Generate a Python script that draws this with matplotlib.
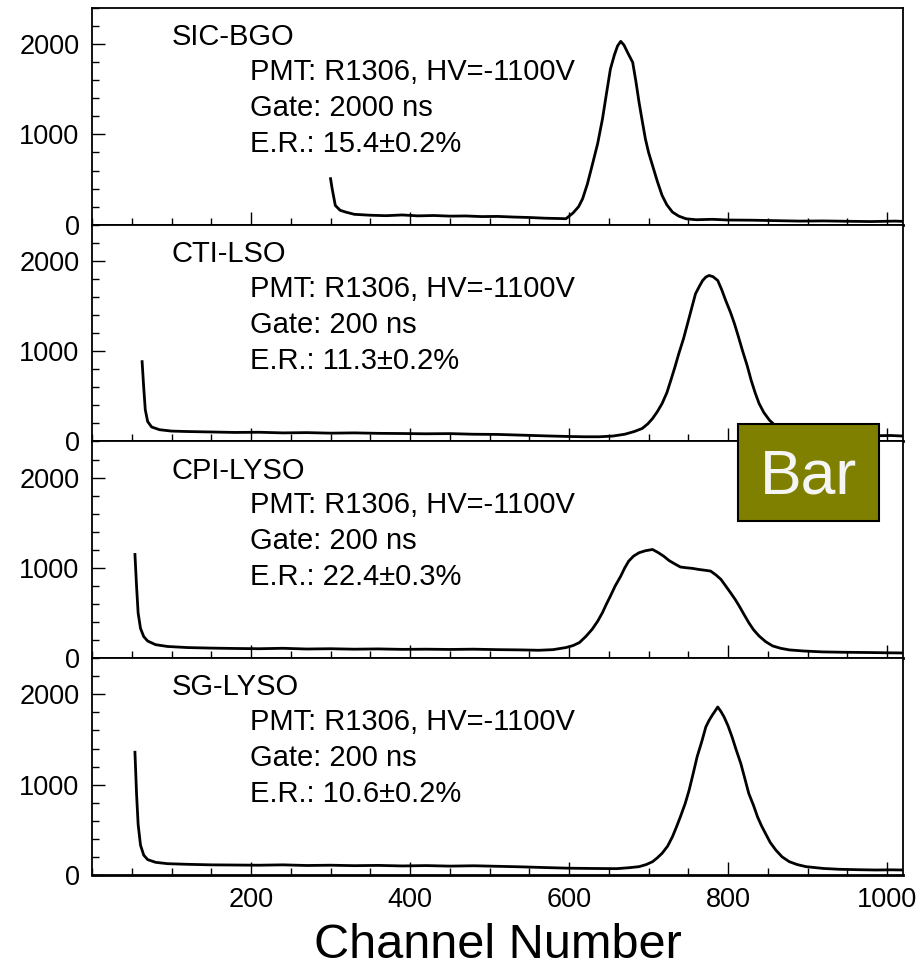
import matplotlib
matplotlib.use("Agg")
import matplotlib.pyplot as plt
from matplotlib.patches import Rectangle
from matplotlib.ticker import MultipleLocator, FixedLocator

plt.rcParams['font.family'] = ['Liberation Sans', 'DejaVu Sans']

# crystal names and run settings
crystals = ['SIC-BGO', 'CTI-LSO', 'CPI-LYSO', 'SG-LYSO']
gates = ['2000 ns', '200 ns', '200 ns', '200 ns']
resolutions = ['15.4\u00b10.2%', '11.3\u00b10.2%', '22.4\u00b10.3%', '10.6\u00b10.2%']
pmt = 'PMT: R1306, HV=-1100V'

# spectra: channel, counts
bgo_ch = [300, 302, 306, 312, 319, 330, 350, 370, 390, 410, 430, 450, 470, 490,
          510, 530, 550, 570, 590, 596, 605, 612, 617, 623, 629, 636, 642, 647,
          652, 657, 661, 665, 669, 674, 680, 684, 688, 692, 696, 700, 705, 711,
          717, 723, 730, 738, 747, 760, 780, 800, 830, 860, 890, 920, 950, 980,
          1010, 1020]
bgo_n = [510, 400, 213, 160, 140, 115, 105, 100, 108, 98, 102, 95, 97, 90,
         92, 85, 80, 72, 68, 66, 130, 200, 287, 450, 655, 900, 1171, 1450,
         1724, 1880, 1980, 2030, 1990, 1900, 1798, 1590, 1356, 1150, 950, 800, 655, 480,
         324, 220, 140, 95, 66, 55, 60, 52, 50, 45, 40, 42, 38, 35,
         40, 37]

lso_ch = [63, 65, 67, 70, 75, 85, 100, 120, 150, 180, 210, 240, 270, 300, 330,
          360, 390, 420, 450, 480, 510, 540, 570, 600, 620, 638, 655, 670, 682,
          692, 699, 705, 711, 717, 723, 728, 733, 738, 744, 749, 754, 759, 764,
          768, 772, 776, 781, 787, 792, 797, 803, 808, 813, 818, 824, 829, 834,
          839, 845, 852, 860, 870, 880, 895, 910, 930, 950, 970, 990, 1005, 1020]
lso_n = [884, 600, 350, 220, 160, 130, 115, 110, 105, 100, 102, 95, 98, 92, 95,
         90, 88, 85, 87, 80, 78, 70, 62, 55, 52, 52, 60, 80, 110,
         144, 195, 254, 330, 420, 540, 678, 820, 972, 1140, 1304, 1470, 1635, 1720,
         1782, 1820, 1838, 1825, 1782, 1680, 1561, 1430, 1304, 1160, 1009, 840, 678, 540,
         420, 320, 236, 170, 120, 95, 80, 72, 70, 66, 65, 64, 66, 60]

cpi_ch = [54, 56, 58, 61, 65, 70, 80, 95, 120, 150, 180, 210, 240, 270, 300,
          330, 360, 390, 420, 450, 480, 510, 540, 562, 580, 596, 605, 613, 621,
          629, 636, 642, 647, 652, 658, 665, 670, 675, 681, 688, 696, 705, 712,
          719, 726, 734, 740, 747, 755, 763, 770, 778, 785, 791, 797, 803, 809,
          814, 820, 826, 832, 839, 847, 856, 866, 877, 895, 919, 945, 977, 1000,
          1020]
cpi_n = [1149, 800, 500, 330, 240, 190, 150, 130, 118, 112, 108, 105, 110, 102, 105,
         100, 103, 98, 100, 97, 100, 95, 92, 88, 95, 118, 140, 173, 240,
         320, 410, 505, 600, 688, 800, 909, 1000, 1075, 1130, 1168, 1190, 1204, 1170,
         1130, 1080, 1039, 1010, 1002, 995, 983, 975, 965, 920, 873, 800, 726, 650,
         578, 485, 394, 315, 246, 185, 136, 110, 92, 80, 70, 66, 63, 60,
         58]

sg_ch = [54, 56, 58, 61, 65, 70, 80, 95, 120, 150, 180, 210, 240, 270, 300,
         330, 360, 390, 420, 450, 480, 510, 540, 570, 600, 630, 660, 675, 688,
         697, 705, 711, 717, 724, 730, 735, 740, 746, 751, 756, 761, 767, 772,
         776, 780, 784, 787, 791, 795, 800, 805, 810, 816, 821, 826, 832, 837,
         842, 847, 853, 860, 868, 877, 887, 898, 920, 940, 965, 986, 1005, 1020]
sg_n = [1359, 900, 560, 330, 220, 170, 140, 125, 118, 112, 110, 108, 112, 105, 108,
        103, 106, 100, 104, 98, 102, 96, 90, 82, 75, 72, 70, 80, 92,
        115, 147, 190, 240, 320, 423, 530, 644, 790, 939, 1120, 1307, 1480, 1639,
        1710, 1768, 1820, 1860, 1810, 1749, 1650, 1528, 1390, 1234, 1070, 903, 770, 644,
        545, 460, 360, 276, 200, 147, 115, 92, 72, 63, 58, 55, 57, 55]

spectra = [(bgo_ch, bgo_n), (lso_ch, lso_n), (cpi_ch, cpi_n), (sg_ch, sg_n)]

fig = plt.figure(figsize=(9.22, 9.71), dpi=100)
axes = fig.subplots(4, 1, sharex=True)
fig.subplots_adjust(left=0.0998, right=0.9794, top=0.9918, bottom=0.0989, hspace=0)

for i, ax in enumerate(axes):
    ch, n = spectra[i]
    ax.plot(ch, n, color='black', lw=2.0)
    ax.set_xlim(0, 1020)
    ax.set_ylim(0, 2400)
    ax.yaxis.set_major_locator(FixedLocator([0, 1000, 2000]))
    ax.yaxis.set_minor_locator(MultipleLocator(200))
    ax.xaxis.set_major_locator(FixedLocator([200, 400, 600, 800, 1000]))
    ax.xaxis.set_minor_locator(MultipleLocator(50))
    ax.tick_params(which='both', direction='in', width=1.0, labelsize=19.5, pad=9)
    ax.tick_params(which='major', length=9.5)
    ax.tick_params(which='minor', length=5)
    for s in ax.spines.values():
        s.set_linewidth(1.3)
    ax.spines['bottom'].set_linewidth(2)
    if i < 3:
        ax.tick_params(labelbottom=False)

    ax.text(0.0986, 0.866, crystals[i], transform=ax.transAxes, fontsize=21, va='center')
    ax.text(0.195, 0.705, pmt, transform=ax.transAxes, fontsize=21, va='center')
    ax.text(0.195, 0.539, 'Gate: ' + gates[i], transform=ax.transAxes, fontsize=21, va='center')
    ax.text(0.195, 0.373, 'E.R.: ' + resolutions[i], transform=ax.transAxes, fontsize=21, va='center')

axes[-1].set_xlabel('Channel Number', fontsize=35, labelpad=7)

box = Rectangle((0.8004, 0.4634), 0.153, 0.0999, transform=fig.transFigure,
                facecolor='#808000', edgecolor='black', lw=1.5, zorder=10)
fig.add_artist(box)
fig.text(0.8769, 0.5083, 'Bar', color='#f5f5f5', fontsize=45, ha='center', va='center', zorder=11)

fig.savefig('out.png', dpi=100)
